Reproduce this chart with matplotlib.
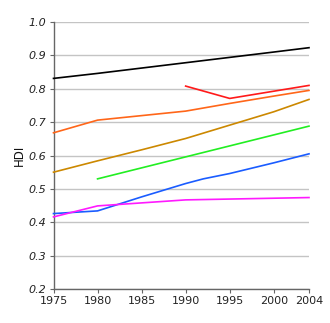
import matplotlib
matplotlib.use("Agg")
import matplotlib.pyplot as plt

# Data (estimated from reference)
black_years = [1975, 1980, 1985, 1990, 1995, 2000, 2004]
black_vals = [0.831, 0.846, 0.862, 0.878, 0.894, 0.910, 0.923]

red_years = [1990, 1995, 2004]
red_vals = [0.808, 0.771, 0.810]

orange_years = [1975, 1980, 1990, 1995, 2000, 2004]
orange_vals = [0.668, 0.706, 0.733, 0.756, 0.778, 0.795]

gold_years = [1975, 1980, 1985, 1990, 1995, 2000, 2004]
gold_vals = [0.550, 0.584, 0.617, 0.651, 0.691, 0.731, 0.768]

green_years = [1980, 2004]
green_vals = [0.530, 0.688]

blue_years = [1975, 1980, 1985, 1990, 1992, 1995, 2000, 2004]
blue_vals = [0.426, 0.434, 0.476, 0.516, 0.530, 0.546, 0.578, 0.605]

magenta_years = [1975, 1980, 1990, 2004]
magenta_vals = [0.416, 0.449, 0.467, 0.474]

x_ticks = [1975, 1980, 1985, 1990, 1995, 2000, 2004]
y_ticks = [0.2, 0.3, 0.4, 0.5, 0.6, 0.7, 0.8, 0.9, 1.0]

fig = plt.figure(figsize=(3.30, 3.23), dpi=100)
ax = fig.add_axes([53.5/330, 34/323, (309-53.5)/330, (289-22)/323])

series = [
    (black_years, black_vals, "#000000"),
    (red_years, red_vals, "#ff1a1a"),
    (orange_years, orange_vals, "#ff6619"),
    (gold_years, gold_vals, "#cc8800"),
    (green_years, green_vals, "#22ee22"),
    (blue_years, blue_vals, "#1a5cff"),
    (magenta_years, magenta_vals, "#ff1aff"),
]
for xs, ys, c in series:
    ax.plot(xs, ys, color=c, lw=1.2, zorder=3, clip_on=False)

ax.set_xlim(1975, 2004)
ax.set_ylim(0.2, 1.0)
ax.set_xticks(x_ticks)
ax.set_xticklabels([str(t) for t in x_ticks])
ax.set_yticks(y_ticks)
ax.set_yticklabels([f"{t:.1f}" for t in y_ticks], fontstyle="italic")
ax.grid(axis="y", color="#c4c4c4", lw=1.0, zorder=0)
ax.set_axisbelow(True)
for s in ["top", "right"]:
    ax.spines[s].set_visible(False)
for s in ["left", "bottom"]:
    ax.spines[s].set_color("#666666")
    ax.spines[s].set_linewidth(1.0)
ax.tick_params(axis="both", colors="#666666", labelcolor="#222222", labelsize=8, length=3, width=0.8)
ax.tick_params(axis="y", pad=2)
ax.tick_params(axis="x", pad=2)
ax.set_ylabel("HDI", fontsize=8.5, color="#111111", labelpad=2)

fig.savefig("out.png", dpi=100)
